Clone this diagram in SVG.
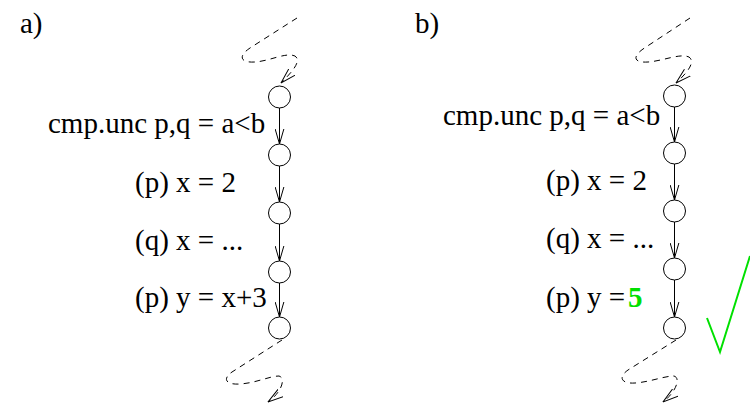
<svg xmlns="http://www.w3.org/2000/svg" width="750" height="404" viewBox="0 0 750 404">
<style>
.t{font-family:'Liberation Serif','Times New Roman','DejaVu Serif',serif;font-size:29px;fill:#000}
.n{fill:#fff;stroke:#000;stroke-width:1}
.e{fill:none;stroke:#000;stroke-width:1;marker-end:url(#v)}
.d{fill:none;stroke:#000;stroke-width:1;stroke-dasharray:6,5;marker-end:url(#v)}
</style>
<defs>
<marker id="v" viewBox="0 0 16 10" refX="15.5" refY="5" markerWidth="16" markerHeight="10" orient="auto" markerUnits="userSpaceOnUse">
<path d="M0,0.5 L15.5,5 L0,9.5" fill="none" stroke="#000" stroke-width="1" stroke-dasharray="none"/>
</marker>
</defs>
<g font-family="Liberation Serif, Times New Roman, DejaVu Serif, serif" font-size="29">
<text class="t" x="20" y="33">a)</text>
<text class="t" x="415" y="33">b)</text>
</g>
<g id="connectors">
<path class="d" d="M297,18 L250,48 C238,56 240,63 255,62 C270,61 286,52 295,56 C302,61 292,72 281,83"/>
<path class="e" d="M279.5,108 L279.5,144"/>
<path class="e" d="M279.5,166 L279.5,202"/>
<path class="e" d="M279.5,224 L279.5,261"/>
<path class="e" d="M279.5,283 L279.5,317"/>
<path class="d" d="M282,340 L232,372 C222,379 226,385 240,384 C256,383 270,376 279,376 C286,378 282,392 268,402"/>
<path class="d" d="M690,18 L643,49 C632,57 634,63 648,62 C663,61 680,53 689,57 C696,62 687,73 676,83"/>
<path class="e" d="M674.5,107 L674.5,142"/>
<path class="e" d="M674.5,164 L674.5,200"/>
<path class="e" d="M674.5,222 L674.5,258"/>
<path class="e" d="M674.5,280 L674.5,317"/>
<path class="d" d="M676,340 L628,370 C618,377 621,384 635,383 C650,382 664,376 674,376 C681,378 676,392 663,402"/>
</g>
<g id="a1"><circle class="n" cx="279.5" cy="97" r="11"/><text class="t" x="48" y="133">cmp.unc p,q = a&lt;b</text></g>
<g id="a2"><circle class="n" cx="279.5" cy="155" r="11"/><text class="t" x="135" y="192">(p) x = 2</text></g>
<g id="a3"><circle class="n" cx="279.5" cy="213" r="11"/><text class="t" x="135" y="250">(q) x = ...</text></g>
<g id="a4"><circle class="n" cx="279.5" cy="272" r="11"/><text class="t" x="135" y="307">(p) y = x+3</text></g>
<g id="a5"><circle class="n" cx="279.5" cy="328" r="11"/></g>
<g id="b1"><circle class="n" cx="674.5" cy="96" r="11"/><text class="t" x="443" y="125">cmp.unc p,q = a&lt;b</text></g>
<g id="b2"><circle class="n" cx="674.5" cy="153" r="11"/><text class="t" x="546" y="190">(p) x = 2</text></g>
<g id="b3"><circle class="n" cx="674.5" cy="211" r="11"/><text class="t" x="546" y="248">(q) x = ...</text></g>
<g id="b4"><circle class="n" cx="674.5" cy="269" r="11"/><text class="t" x="546" y="307">(p) y =</text><text class="t" x="628" y="307" style="font-weight:bold;fill:#00e000">5</text></g>
<g id="b5"><circle class="n" cx="674.5" cy="328" r="11"/></g>
<g id="check"><polyline points="707,318 720,352 750,256" fill="none" stroke="#00e000" stroke-width="2"/></g>
</svg>
